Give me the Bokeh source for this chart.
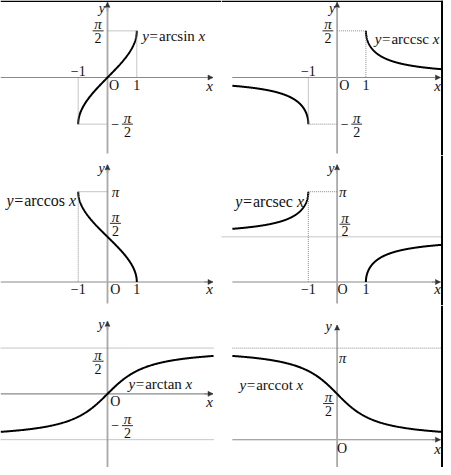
import numpy as np
from bokeh.plotting import figure
from bokeh.layouts import column, row
from bokeh.models import Span, Arrow, NormalHead, Range1d
from bokeh.embed import file_html
from bokeh.resources import INLINE
from bokeh.core.properties import value

# ---------------- data ----------------
PI = np.pi
HALF = np.pi / 2
# argument domains of the drawn branches
asin_dom = [-1.0, 1.0]
acos_dom = [-1.0, 1.0]
acsc_left_dom = [-3.64, -1.0]
acsc_right_dom = [1.0, 3.66]
asec_left_dom = [-3.64, -1.0]
asec_right_dom = [1.0, 3.66]
atan_dom = [-3.65, 3.62]
acot_dom = [-3.64, 3.66]
tick_one = [-1.0, 1.0]
func_names = ["arcsin", "arccsc", "arccos", "arcsec", "arctan", "arccot"]

# ---------------- layout ----------------
FONT = "Liberation Serif"
TXT = "#111111"
KX, KY = 29.3, 29.7           # reference px per unit
col_ref = [(0, 221), (225, 451)]
col_pg = [(0, 221), (221, 443)]
row_ref = [(0, 155), (155, 310), (310, 475)]
row_pg = [(0, 155), (155, 305), (305, 467)]


def make(ci, ri, ox, oy):
    RX0, RX1 = col_ref[ci]
    RY0, RY1 = row_ref[ri]
    P0, P1 = col_pg[ci]
    Q0, Q1 = row_pg[ri]
    xs = (RX0 - ox) / KX
    xe = (RX1 - ox) / KX
    ye = (oy - RY0) / KY
    ys = (oy - RY1) / KY
    p = figure(width=P1 - P0, height=Q1 - Q0, x_range=Range1d(xs, xe), y_range=Range1d(ys, ye),
               output_backend="svg", toolbar_location=None, min_border=0,
               x_axis_type=None, y_axis_type=None, title=None)
    p.outline_line_color = None
    p.background_fill_color = "white"
    p.border_fill_color = "white"
    if ri == 0:
        p.add_layout(Span(location=ye - 0.8 / KY, dimension="width", line_color="black", line_width=1.6))
    if ci == 1:
        p.add_layout(Span(location=xe - 1.5 / KX, dimension="height", line_color="black", line_width=2))
    return p, (xs, xe, ys, ye)


def axes(p, x0, x1, y0, y1):
    p.line([x0, x1], [0, 0], line_color="#8a8a8a", line_width=1.1)
    p.add_layout(Arrow(end=NormalHead(size=5, fill_color="#333", line_color="#333", line_width=0.5),
                       x_start=x1 - 0.3, y_start=0, x_end=x1, y_end=0, line_color="#8a8a8a", line_width=1.1))
    p.line([0, 0], [y0, y1], line_color="#a9a9a9", line_width=1.8)
    p.add_layout(Arrow(end=NormalHead(size=5, fill_color="#333", line_color="#333", line_width=0.5),
                       x_start=0, y_start=y1 - 0.3, x_end=0, y_end=y1, line_color="#a9a9a9", line_width=1.8))


def dotted(p, xs, ys):
    p.line(xs, ys, line_color="#8c8c8c", line_width=1, line_dash="1 1")


def txt(p, x, y, t, size=14.0, italic=False, align="center", xoff=0.0):
    p.text(x=[x], y=[y], text=[t], text_font=value(FONT), text_font_size=f"{size:.1f}px",
           text_font_style="italic" if italic else "normal", text_align=align,
           text_baseline="middle", text_color=TXT, x_offset=xoff)


def frac(p, xc, ybar, top="π", bot="2", half=5.5):
    p.line([xc - half / KX, xc + half / KX], [ybar, ybar], line_color=TXT, line_width=0.9)
    txt(p, xc, ybar + 6.5 / KY, top, size=15, italic=True)
    txt(p, xc, ybar - 7.5 / KY, bot, size=14)


W_REG = {"a": 444, "c": 444, "e": 444, "i": 278, "n": 500, "o": 500, "r": 333, "s": 389, "t": 278, "=": 564}


def eq_label(p, x, y, name, size=15.0, right=False):
    f = size
    w_y = 444 * f / 1000
    w_eq = 564 * f / 1000
    w_n = sum(W_REG[c] for c in name) * f / 1000
    offs = [0, w_y + 0.5, w_y + w_eq + 1.5, w_y + w_eq + 1.5 + w_n + 0.25 * f]
    total = offs[3] + 444 * f / 1000
    shift = -total if right else 0
    pieces = [("y", True), ("=", False), (name, False), ("x", True)]
    for (t, it), o in zip(pieces, offs):
        txt(p, x, y, t, size=size, italic=it, align="left", xoff=o + shift)


def curve(p, xs, ys):
    p.line(xs, ys, line_color="black", line_width=2)


# ---------- panel 1: arcsin ----------
p1, r1 = make(0, 0, 107, 77)
axes(p1, r1[0], 3.60, -2.56, 2.53)
th = np.linspace(-HALF, HALF, 200)
curve(p1, np.sin(th), np.arcsin(np.sin(th)))
dotted(p1, [0, tick_one[1], tick_one[1]], [HALF, HALF, 0])
dotted(p1, [tick_one[0], tick_one[0], 0], [0, -HALF, -HALF])
txt(p1, -0.19, 2.33, "y", italic=True, size=14)
frac(p1, -0.32, HALF)
eq_label(p1, 1.19, 1.41, func_names[0])
txt(p1, -1.0, 0.21, "−1")
txt(p1, 0.22, -0.26, "O")
txt(p1, 1.0, -0.25, "1")
txt(p1, 3.48, -0.28, "x", italic=True, size=15)
txt(p1, 0.26, -HALF, "−")
frac(p1, 0.68, -HALF)

# ---------- panel 2: arccsc ----------
p2, r2 = make(1, 0, 342.7, 77)
axes(p2, -3.64, 3.59, -2.56, 2.53)
u = np.linspace(0, 1, 300)
xl = acsc_left_dom[1] + (acsc_left_dom[0] - acsc_left_dom[1]) * u ** 2
xr = acsc_right_dom[0] + (acsc_right_dom[1] - acsc_right_dom[0]) * u ** 2
curve(p2, xl, np.arcsin(1 / xl))
curve(p2, xr, np.arcsin(1 / xr))
dotted(p2, [0, tick_one[1], tick_one[1]], [HALF, HALF, 0])
dotted(p2, [tick_one[0], tick_one[0], 0], [0, -HALF, -HALF])
txt(p2, -0.17, 2.33, "y", italic=True, size=14)
frac(p2, -0.32, HALF)
eq_label(p2, 1.31, 1.31, func_names[1])
txt(p2, -1.0, 0.21, "−1")
txt(p2, 0.25, -0.26, "O")
txt(p2, 1.0, -0.25, "1")
txt(p2, 3.49, -0.28, "x", italic=True, size=15)
txt(p2, 0.26, -HALF, "−")
frac(p2, 0.68, -HALF)

# ---------- panel 3: arccos ----------
p3, r3 = make(0, 1, 107, 285.7)
axes(p3, r3[0], 3.60, -0.75, 4.08)
th = np.linspace(0, PI, 200)
curve(p3, np.cos(th), np.arccos(np.cos(th)))
dotted(p3, [0, tick_one[0], tick_one[0]], [PI, PI, 0])
txt(p3, -0.2, 3.95, "y", italic=True, size=14)
txt(p3, 0.27, PI, "π", italic=True, size=15)
frac(p3, 0.27, 2.04)
eq_label(p3, -1.07, 2.83, func_names[2], size=16, right=True)
txt(p3, -1.0, -0.26, "−1")
txt(p3, 0.27, -0.26, "O")
txt(p3, 1.0, -0.26, "1")
txt(p3, 3.48, -0.26, "x", italic=True, size=15)

# ---------- panel 4: arcsec ----------
p4, r4 = make(1, 1, 342.7, 285.7)
axes(p4, -3.64, 3.59, -0.75, 4.08)
xl = asec_left_dom[1] + (asec_left_dom[0] - asec_left_dom[1]) * u ** 2
xr = asec_right_dom[0] + (asec_right_dom[1] - asec_right_dom[0]) * u ** 2
curve(p4, xl, np.arccos(1 / xl))
curve(p4, xr, np.arccos(1 / xr))
dotted(p4, [0, tick_one[0], tick_one[0]], [PI, PI, 0])
dotted(p4, [r4[0], r4[1]], [HALF, HALF])
txt(p4, -0.2, 3.95, "y", italic=True, size=14)
txt(p4, 0.2, PI, "π", italic=True, size=15)
frac(p4, 0.27, 2.01)
eq_label(p4, -1.15, 2.79, func_names[3], size=16, right=True)
txt(p4, -1.0, -0.26, "−1")
txt(p4, 0.19, -0.26, "O")
txt(p4, 1.0, -0.26, "1")
txt(p4, 3.49, -0.26, "x", italic=True, size=15)

# ---------- panel 5: arctan ----------
p5, r5 = make(0, 2, 107, 400)
axes(p5, r5[0], 3.60, r5[2], 2.49)
xt = np.linspace(atan_dom[0], atan_dom[1], 300)
curve(p5, xt, np.arctan(xt))
dotted(p5, [r5[0], atan_dom[1]], [HALF, HALF])
dotted(p5, [r5[0], atan_dom[1]], [-HALF, -HALF])
txt(p5, -0.21, 2.39, "y", italic=True, size=14)
frac(p5, -0.32, 1.12)
eq_label(p5, 0.72, 0.34, func_names[4])
txt(p5, 0.27, -0.27, "O")
txt(p5, 3.48, -0.27, "x", italic=True, size=15)
txt(p5, 0.26, -1.07, "−")
frac(p5, 0.68, -1.09)

# ---------- panel 6: arccot ----------
p6, r6 = make(1, 2, 342.7, 446.7)
axes(p6, -3.64, 3.59, r6[2], 3.93)
xc = np.linspace(acot_dom[0], acot_dom[1], 300)
curve(p6, xc, HALF - np.arctan(xc))
dotted(p6, [acot_dom[0], r6[1]], [PI, PI])
txt(p6, -0.3, 3.87, "y", italic=True, size=14)
txt(p6, 0.19, 2.81, "π", italic=True, size=15)
frac(p6, -0.30, 1.24)
eq_label(p6, -3.39, 1.88, func_names[5])
txt(p6, 0.17, -0.30, "O")
txt(p6, 3.49, -0.31, "x", italic=True, size=15)

layout = column(row(p1, p2), row(p3, p4), row(p5, p6))
open("out.html", "w").write(file_html(layout, INLINE))
